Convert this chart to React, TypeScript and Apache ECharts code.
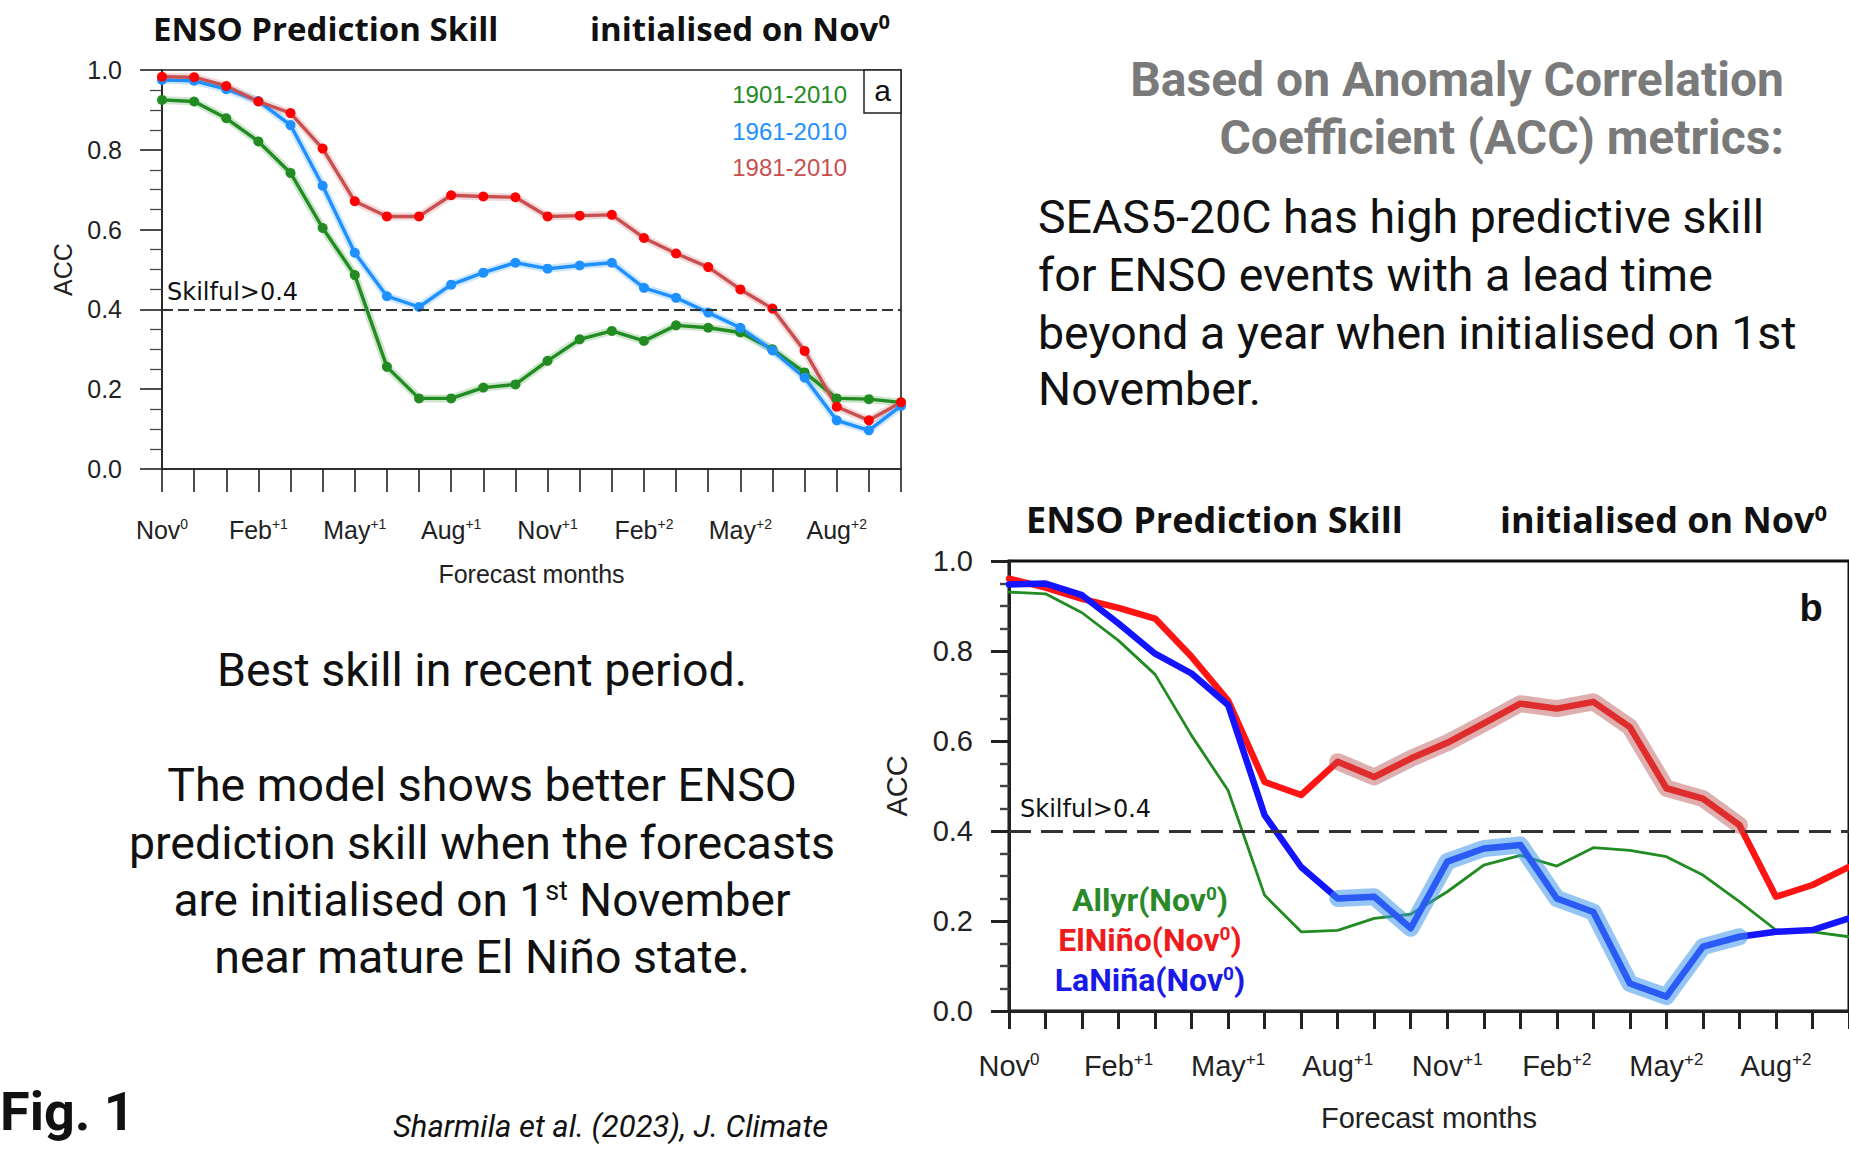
import React, { useEffect, useRef } from "react";
import * as echarts from "echarts";

// ---------- data ----------
const months = [
  "Nov0", "Dec0", "Jan+1", "Feb+1", "Mar+1", "Apr+1", "May+1", "Jun+1",
  "Jul+1", "Aug+1", "Sep+1", "Oct+1", "Nov+1", "Dec+1", "Jan+2", "Feb+2",
  "Mar+2", "Apr+2", "May+2", "Jun+2", "Jul+2", "Aug+2", "Sep+2", "Oct+2",
];

const skillThreshold = 0.4;

// panel a
const acc1901_2010 = [0.925, 0.921, 0.879, 0.821, 0.742, 0.604, 0.486, 0.256, 0.177, 0.177, 0.204, 0.212, 0.271, 0.325, 0.346, 0.321, 0.36, 0.354, 0.342, 0.3, 0.242, 0.177, 0.175, 0.167];
const acc1961_2010 = [0.975, 0.973, 0.952, 0.922, 0.862, 0.71, 0.542, 0.433, 0.406, 0.462, 0.492, 0.517, 0.502, 0.51, 0.517, 0.454, 0.429, 0.392, 0.354, 0.297, 0.229, 0.122, 0.097, 0.158];
const acc1981_2010 = [0.983, 0.982, 0.96, 0.921, 0.892, 0.803, 0.671, 0.633, 0.633, 0.686, 0.683, 0.681, 0.633, 0.635, 0.637, 0.579, 0.54, 0.506, 0.45, 0.402, 0.296, 0.156, 0.122, 0.167];
const panelALabels = ["1901-2010", "1961-2010", "1981-2010"];

// panel b
const allyrNov = [0.931, 0.927, 0.885, 0.823, 0.748, 0.612, 0.49, 0.257, 0.176, 0.179, 0.206, 0.215, 0.265, 0.324, 0.346, 0.322, 0.363, 0.357, 0.343, 0.302, 0.243, 0.18, 0.176, 0.165];
const elNinoNov = [0.961, 0.941, 0.916, 0.896, 0.872, 0.787, 0.69, 0.509, 0.48, 0.554, 0.52, 0.561, 0.596, 0.639, 0.683, 0.672, 0.687, 0.631, 0.495, 0.472, 0.413, 0.254, 0.28, 0.32];
const laNinaNov = [0.948, 0.95, 0.924, 0.861, 0.794, 0.75, 0.68, 0.435, 0.32, 0.25, 0.254, 0.184, 0.332, 0.361, 0.369, 0.25, 0.22, 0.061, 0.032, 0.143, 0.165, 0.176, 0.18, 0.206];
const elNinoSignificant = ["Aug+1", "Jul+2"];
const laNinaSignificant = ["Aug+1", "Jul+2"];
const panelBLabels = ["Allyr", "ElNiño", "LaNiña"];

// ---------- styles ----------
const NCL = "'Liberation Sans', Arial, Helvetica, sans-serif";
const DEJA = "'DejaVu Sans', sans-serif";
const SLIDE = "Roboto, 'Noto Sans', sans-serif";
const TITLE = "'Open Sans', Roboto, sans-serif";

const GREEN = "#228b22";
const BLUE_A = "#1e90ff";
const RED_A_LINE = "#c85050";
const RED_A_MARK = "#ff0000";
const RED_B = "#ff1414";
const BLUE_B = "#1414ff";

function monthRich(v: string) {
  const m = /^([A-Za-z]+)(.*)$/.exec(v);
  if (!m) return v;
  return `{m|${m[1]}}{s|${m[2]}}`;
}

function mask(values: number[], range: string[]) {
  const a = months.indexOf(range[0]);
  const b = months.indexOf(range[1]);
  return values.map((v, i) => (i >= a && i <= b ? v : null));
}

function text(x: number, y: number, t: string, o: any = {}) {
  const align = o.align || "left";
  return {
    type: "text",
    x,
    y,
    z: 50,
    silent: true,
    style: {
      text: t,
      fill: o.fill || "#111",
      fontSize: o.fontSize || 20,
      fontFamily: o.fontFamily || SLIDE,
      fontWeight: o.fontWeight || "normal",
      fontStyle: o.fontStyle || "normal",
      align,
      textAlign: align,
      verticalAlign: "middle",
      textVerticalAlign: "middle",
      rich: o.rich,
    },
  };
}

function supRich(size: number, supSize: number, weight: string, fill: string, family: string) {
  return {
    t: { fontSize: size, fontWeight: weight, fill, color: fill, fontFamily: family },
    s: { fontSize: supSize, fontWeight: weight, fill, color: fill, fontFamily: family, verticalAlign: "top" },
  };
}

function buildOption(): any {
  const axisColor = "#222";
  const xAxisCommon = (grid: number, o: any) => ({
    gridIndex: grid,
    type: "category",
    data: months,
    boundaryGap: false,
    axisLine: { show: true, onZero: false, lineStyle: { color: axisColor, width: o.lw } },
    axisTick: { show: true, interval: 0, length: o.tick, lineStyle: { color: axisColor, width: o.lw } },
    axisLabel: {
      interval: 2,
      margin: o.margin,
      formatter: monthRich,
      rich: {
        m: { fontSize: o.fs, fontFamily: NCL, color: axisColor },
        s: { fontSize: o.sfs, fontFamily: NCL, color: axisColor, verticalAlign: "top" },
      },
    },
    splitLine: { show: false },
    name: "Forecast months",
    nameLocation: "middle",
    nameGap: o.nameGap,
    nameTextStyle: { fontSize: o.fs, fontFamily: NCL, color: axisColor },
  });
  const yAxisCommon = (grid: number, o: any) => ({
    gridIndex: grid,
    type: "value",
    min: 0,
    max: 1,
    interval: 0.2,
    axisLine: { show: true, lineStyle: { color: axisColor, width: o.lw } },
    axisTick: { show: true, length: o.tick, lineStyle: { color: axisColor, width: o.lw } },
    minorTick: { show: true, splitNumber: 4, length: o.minor, lineStyle: { color: "#444", width: o.lw * 0.8 } },
    minorSplitLine: { show: false },
    splitLine: { show: false },
    axisLabel: {
      margin: o.margin,
      fontSize: o.fs,
      fontFamily: NCL,
      color: axisColor,
      formatter: (v: number) => v.toFixed(1),
    },
    name: "ACC",
    nameLocation: "middle",
    nameRotate: 90,
    nameGap: o.nameGap,
    nameTextStyle: { fontSize: o.fs, fontFamily: NCL, color: axisColor },
  });

  const thresholdLine = (dash: number[], width: number, fs: number, dist: number[]) => ({
    silent: true,
    symbol: ["none", "none"],
    data: [{ yAxis: skillThreshold }],
    lineStyle: { type: dash, color: "#333", width },
    label: {
      show: true,
      position: "insideStartTop",
      distance: dist,
      formatter: "Skilful>" + skillThreshold,
      fontSize: fs,
      fontFamily: DEJA,
      color: "#111",
    },
  });

  const aLine = (name: string, data: number[], line: string, mark: string, extra: any = {}) => ({
    name,
    type: "line",
    xAxisIndex: 0,
    yAxisIndex: 0,
    data,
    symbol: "circle",
    symbolSize: 10,
    itemStyle: { color: mark, borderWidth: 0 },
    lineStyle: { color: line, width: 3.4 },
    z: 3,
    ...extra,
  });
  const aHalo = (data: number[], color: string, extra: any = {}) => ({
    type: "line",
    xAxisIndex: 0,
    yAxisIndex: 0,
    data,
    symbol: "none",
    silent: true,
    lineStyle: { color, width: 8, cap: "round", join: "round" },
    z: 2,
    ...extra,
  });
  const bLine = (name: string, data: (number | null)[], color: string, width: number, extra: any = {}) => ({
    name,
    type: "line",
    xAxisIndex: 1,
    yAxisIndex: 1,
    data,
    symbol: "none",
    silent: true,
    lineStyle: { color, width, cap: "round", join: "round" },
    z: 3,
    ...extra,
  });

  const titleRich = (size: number) => supRich(size, Math.round(size * 0.6), "bold", "#111", TITLE);
  const legendRich = (fill: string) => supRich(32, 19, "bold", fill, SLIDE);
  const bodyRich = supRich(46, 27, "normal", "#111", SLIDE);

  const graphic: any[] = [
    // panel a titles
    text(153, 28, "ENSO Prediction Skill", { fontSize: 33, fontWeight: "bold", fontFamily: TITLE }),
    text(590, 28, "{t|initialised on Nov}{s|0}", { rich: titleRich(33) }),
    // panel b titles
    text(1026, 519, "ENSO Prediction Skill", { fontSize: 36, fontWeight: "bold", fontFamily: TITLE }),
    text(1500, 519, "{t|initialised on Nov}{s|0}", { rich: titleRich(36) }),
    // panel a legend
    text(847, 94, panelALabels[0], { fill: GREEN, fontSize: 24, fontFamily: NCL, align: "right" }),
    text(847, 131, panelALabels[1], { fill: BLUE_A, fontSize: 24, fontFamily: NCL, align: "right" }),
    text(847, 167, panelALabels[2], { fill: RED_A_LINE, fontSize: 24, fontFamily: NCL, align: "right" }),
    {
      type: "rect",
      z: 40,
      silent: true,
      shape: { x: 864, y: 70, width: 37, height: 43 },
      style: { fill: "#fff", stroke: "#222", lineWidth: 1.5 },
    },
    text(882.5, 90, "a", { fontSize: 30, fontFamily: NCL, align: "center" }),
    // panel b legend
    text(1150, 900, `{t|${panelBLabels[0]}(Nov}{s|0}{t|)}`, { align: "center", rich: legendRich("#2a8a2a") }),
    text(1150, 940, `{t|${panelBLabels[1]}(Nov}{s|0}{t|)}`, { align: "center", rich: legendRich("#ee1c1c") }),
    text(1150, 980, `{t|${panelBLabels[2]}(Nov}{s|0}{t|)}`, { align: "center", rich: legendRich("#1a1ae6") }),
    text(1811, 608, "b", { fontSize: 38, fontWeight: "bold", fontFamily: NCL, align: "center" }),
    // right text block
    text(1784, 79, "Based on Anomaly Correlation", { fontSize: 48, fontWeight: "bold", fill: "#7a7a7a", align: "right" }),
    text(1784, 137, "Coefficient (ACC) metrics:", { fontSize: 48, fontWeight: "bold", fill: "#7a7a7a", align: "right" }),
    text(1038, 217, "SEAS5-20C has high predictive skill", { fontSize: 46.5 }),
    text(1038, 275, "for ENSO events with a lead time", { fontSize: 46.5 }),
    text(1038, 333, "beyond a year when initialised on 1st", { fontSize: 46.5 }),
    text(1038, 389, "November.", { fontSize: 46.5 }),
    // left text block
    text(482, 670, "Best skill in recent period.", { fontSize: 46.5, align: "center" }),
    text(482, 785, "The model shows better ENSO", { fontSize: 46.5, align: "center" }),
    text(482, 843, "prediction skill when the forecasts", { fontSize: 46.5, align: "center" }),
    text(482, 900, "{t|are initialised on 1}{s|st}{t| November}", { align: "center", rich: bodyRich }),
    text(482, 957, "near mature El Niño state.", { fontSize: 46.5, align: "center" }),
    // footer
    text(0, 1111, "Fig. 1", { fontSize: 54, fontWeight: "bold" }),
    text(393, 1126, "Sharmila et al. (2023), J. Climate", { fontSize: 31, fontStyle: "italic" }),
  ];

  return {
    animation: false,
    backgroundColor: "#ffffff",
    grid: [
      { left: 162, top: 70, width: 739, height: 399, show: true, borderColor: "#222", borderWidth: 1.6, backgroundColor: "transparent" },
      { left: 1009, top: 561, width: 842, height: 450, show: true, borderColor: "#111", borderWidth: 3, backgroundColor: "transparent" },
    ],
    xAxis: [
      xAxisCommon(0, { lw: 1.6, tick: 23, margin: 48, fs: 25, sfs: 14, nameGap: 92 }),
      xAxisCommon(1, { lw: 3, tick: 18, margin: 40, fs: 29, sfs: 17, nameGap: 92 }),
    ],
    yAxis: [
      yAxisCommon(0, { lw: 1.6, tick: 22, minor: 12, margin: 40, fs: 25, nameGap: 87 }),
      yAxisCommon(1, { lw: 3, tick: 18, minor: 9, margin: 36, fs: 29, nameGap: 98 }),
    ],
    graphic,
    series: [
      // panel a
      aHalo(acc1901_2010, "rgba(34,139,34,0.22)", { markLine: thresholdLine([11, 5], 2, 24, [5, 5]) }),
      aHalo(acc1961_2010, "rgba(30,144,255,0.22)"),
      aHalo(acc1981_2010, "rgba(200,80,80,0.22)"),
      aLine(panelALabels[0], acc1901_2010, GREEN, GREEN),
      aLine(panelALabels[1], acc1961_2010, BLUE_A, BLUE_A),
      aLine(panelALabels[2], acc1981_2010, RED_A_LINE, RED_A_MARK),
      // panel b
      bLine(panelBLabels[0], allyrNov, GREEN, 2.8, { markLine: thresholdLine([22, 10], 2.8, 24, [11, 10]) }),
      bLine(panelBLabels[1], elNinoNov, RED_B, 6.5),
      bLine(panelBLabels[2], laNinaNov, BLUE_B, 6.5),
      bLine("ElNiño significant", mask(elNinoNov, elNinoSignificant), "rgba(185,75,75,0.45)", 17, { z: 4 }),
      bLine("LaNiña significant", mask(laNinaNov, laNinaSignificant), "rgba(60,150,235,0.55)", 17, { z: 4 }),
    ],
  };
}

export default function App() {
  const ref = useRef<HTMLDivElement>(null);
  useEffect(() => {
    if (!ref.current) return;
    const chart = echarts.init(ref.current, undefined, { renderer: "svg" });
    chart.setOption(buildOption());
    return () => chart.dispose();
  }, []);
  return (
    <div
      ref={ref}
      style={{ position: "absolute", left: 0, top: 0, width: 1849, height: 1156, background: "#fff", overflow: "hidden" }}
    />
  );
}
